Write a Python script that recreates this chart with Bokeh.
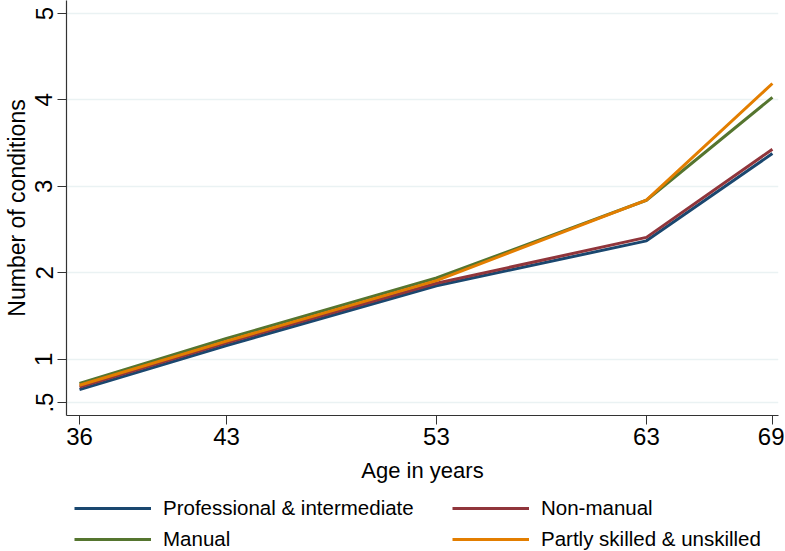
from bokeh.plotting import figure
from bokeh.layouts import column
from bokeh.models import Legend, LegendItem, FixedTicker, Range1d
from bokeh.embed import file_html
from bokeh.resources import INLINE

ages = [36, 43, 53, 63, 69]
professional = [0.65, 1.16, 1.85, 2.37, 3.38]
non_manual = [0.68, 1.19, 1.88, 2.41, 3.43]
manual = [0.72, 1.24, 1.94, 2.84, 4.03]
partly_skilled = [0.70, 1.21, 1.91, 2.84, 4.19]

series_names = ["Professional & intermediate", "Non-manual", "Manual", "Partly skilled & unskilled"]
series_values = [professional, non_manual, manual, partly_skilled]
colors = ["#1a476f", "#90353b", "#55752f", "#e37e00"]

y_ticks = [0.5, 1, 2, 3, 4, 5]
y_tick_labels = {0.5: ".5", 1: "1", 2: "2", 3: "3", 4: "4", 5: "5"}

FONT = "Liberation Sans"

p = figure(frame_width=712, frame_height=415, x_range=(35.38, 69.29), y_range=(0.35, 5.15),
           output_backend="svg", toolbar_location=None,
           min_border_top=0, min_border_right=6, min_border_left=0, min_border_bottom=75)
p.outline_line_color = None
p.background_fill_color = "white"
p.border_fill_color = "white"

for vals, col in zip(series_values, colors):
    p.line(ages, vals, line_color=col, line_width=3)

# axes
p.xaxis.ticker = FixedTicker(ticks=ages)
p.yaxis.ticker = FixedTicker(ticks=y_ticks)
p.yaxis.major_label_overrides = y_tick_labels
p.yaxis.major_label_orientation = "vertical"
for ax in (p.xaxis[0], p.yaxis[0]):
    ax.axis_line_color = "#333333"
    ax.axis_line_width = 1.2
    ax.major_tick_line_color = "#333333"
    ax.major_tick_out = 9
    ax.major_tick_in = 0
    ax.minor_tick_line_color = None
    ax.major_label_text_font = FONT
    ax.major_label_text_font_size = "24px"
    ax.major_label_text_color = "black"
    ax.axis_label_text_font = FONT
    ax.axis_label_text_font_style = "normal"
    ax.axis_label_text_color = "black"
p.xaxis.axis_label = "Age in years"
p.yaxis.axis_label = "Number of conditions"
p.xaxis.axis_label_text_font_size = "22px"
p.yaxis.axis_label_text_font_size = "23px"
p.xaxis.major_label_standoff = 3
p.xaxis.axis_label_standoff = 10
p.yaxis.major_label_standoff = 5
p.yaxis.axis_label_standoff = 3

p.xgrid.grid_line_color = None
p.ygrid.grid_line_color = "#eaf2f3"
p.ygrid.grid_line_width = 1.5

# legend in its own strip below the chart; its lines use the same series
# but the strip's ranges keep them out of view, so only the key shows
lg = figure(width=784, height=61, output_backend="svg", toolbar_location=None,
            x_range=Range1d(0, 1), y_range=Range1d(0, 1),
            x_axis_type=None, y_axis_type=None,
            min_border=0, min_border_left=0, min_border_right=0, min_border_top=0, min_border_bottom=0)
lg.outline_line_color = None
lg.xgrid.grid_line_color = None
lg.ygrid.grid_line_color = None
lg.border_fill_color = "white"
lg.background_fill_color = "white"

legend_renderers = [lg.line(ages, vals, line_color=c, line_width=3)
                    for vals, c in zip(series_values, colors)]
items = [LegendItem(label=n, renderers=[r]) for n, r in zip(series_names, legend_renderers)]
legend = Legend(items=items, ncols=2, orientation="horizontal",
                glyph_width=77, glyph_height=22, label_standoff=12,
                label_width=282, label_height=22, spacing=7,
                label_text_font=FONT, label_text_font_size="20.5px",
                label_text_color="black",
                border_line_color=None, background_fill_alpha=0,
                padding=0, margin=0, location=(8, 0))
lg.add_layout(legend, "center")

layout = column(p, lg, spacing=0)
open("out.html", "w").write(file_html(layout, INLINE))
